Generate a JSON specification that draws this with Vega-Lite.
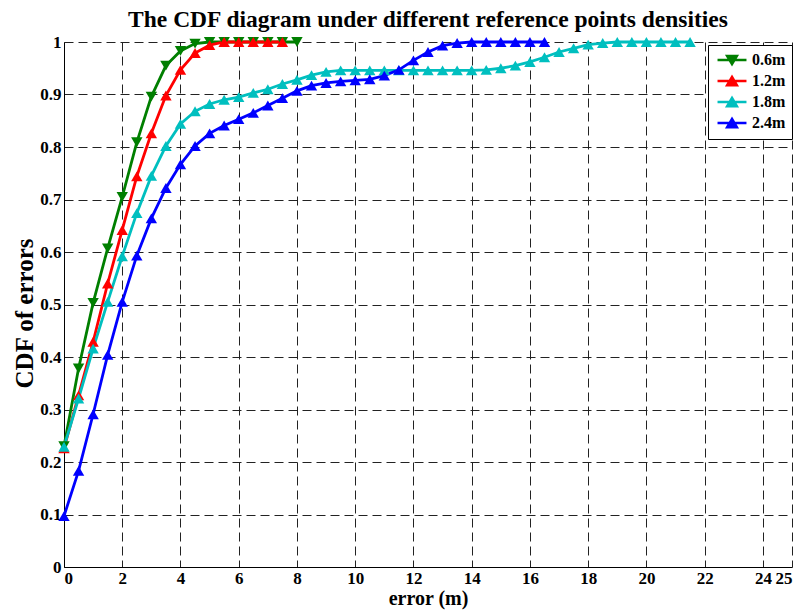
{
  "$schema": "https://vega.github.io/schema/vega-lite/v6.json",
  "width": 728,
  "height": 525,
  "autosize": {"type": "none"},
  "padding": {"left": 64, "top": 42, "right": 10, "bottom": 43},
  "background": "white",
  "title": {
    "text": "The CDF diagram under different reference points densities",
    "font": "Liberation Serif",
    "fontSize": 23.5,
    "fontWeight": "bold",
    "color": "black",
    "anchor": "middle",
    "offset": 2
  },
  "config": {
    "view": {"stroke": null},
    "axis": {
      "labelFont": "Liberation Serif",
      "labelFontSize": 17,
      "labelFontWeight": "bold",
      "labelColor": "black",
      "titleFont": "Liberation Serif",
      "titleFontWeight": "bold",
      "titleColor": "black",
      "domainColor": "black",
      "domainWidth": 1,
      "ticks": false,
      "grid": true,
      "gridColor": "#222",
      "gridDash": [9, 5],
      "gridWidth": 1,
      "gridOpacity": 1
    }
  },
  "data": {
    "values": [
      {"s": "0.6m", "x": 0, "y": 0.23},
      {"s": "0.6m", "x": 0.5, "y": 0.378},
      {"s": "0.6m", "x": 1, "y": 0.503},
      {"s": "0.6m", "x": 1.5, "y": 0.607},
      {"s": "0.6m", "x": 2, "y": 0.705},
      {"s": "0.6m", "x": 2.5, "y": 0.809},
      {"s": "0.6m", "x": 3, "y": 0.896},
      {"s": "0.6m", "x": 3.5, "y": 0.955},
      {"s": "0.6m", "x": 4, "y": 0.983},
      {"s": "0.6m", "x": 4.5, "y": 0.997},
      {"s": "0.6m", "x": 5, "y": 1},
      {"s": "0.6m", "x": 5.5, "y": 1},
      {"s": "0.6m", "x": 6, "y": 1},
      {"s": "0.6m", "x": 6.5, "y": 1},
      {"s": "0.6m", "x": 7, "y": 1},
      {"s": "0.6m", "x": 7.5, "y": 1},
      {"s": "0.6m", "x": 8, "y": 1},
      {"s": "1.2m", "x": 0, "y": 0.226},
      {"s": "1.2m", "x": 0.5, "y": 0.327},
      {"s": "1.2m", "x": 1, "y": 0.429},
      {"s": "1.2m", "x": 1.5, "y": 0.54},
      {"s": "1.2m", "x": 2, "y": 0.642},
      {"s": "1.2m", "x": 2.5, "y": 0.744},
      {"s": "1.2m", "x": 3, "y": 0.826},
      {"s": "1.2m", "x": 3.5, "y": 0.898},
      {"s": "1.2m", "x": 4, "y": 0.947},
      {"s": "1.2m", "x": 4.5, "y": 0.979},
      {"s": "1.2m", "x": 5, "y": 0.994},
      {"s": "1.2m", "x": 5.5, "y": 1},
      {"s": "1.2m", "x": 6, "y": 1},
      {"s": "1.2m", "x": 6.5, "y": 1},
      {"s": "1.2m", "x": 7, "y": 1},
      {"s": "1.2m", "x": 7.5, "y": 1},
      {"s": "1.8m", "x": 0, "y": 0.229},
      {"s": "1.8m", "x": 0.5, "y": 0.321},
      {"s": "1.8m", "x": 1, "y": 0.416},
      {"s": "1.8m", "x": 1.5, "y": 0.505},
      {"s": "1.8m", "x": 2, "y": 0.592},
      {"s": "1.8m", "x": 2.5, "y": 0.674},
      {"s": "1.8m", "x": 3, "y": 0.745},
      {"s": "1.8m", "x": 3.5, "y": 0.802},
      {"s": "1.8m", "x": 4, "y": 0.844},
      {"s": "1.8m", "x": 4.5, "y": 0.868},
      {"s": "1.8m", "x": 5, "y": 0.882},
      {"s": "1.8m", "x": 5.5, "y": 0.89},
      {"s": "1.8m", "x": 6, "y": 0.895},
      {"s": "1.8m", "x": 6.5, "y": 0.903},
      {"s": "1.8m", "x": 7, "y": 0.91},
      {"s": "1.8m", "x": 7.5, "y": 0.92},
      {"s": "1.8m", "x": 8, "y": 0.928},
      {"s": "1.8m", "x": 8.5, "y": 0.937},
      {"s": "1.8m", "x": 9, "y": 0.943},
      {"s": "1.8m", "x": 9.5, "y": 0.946},
      {"s": "1.8m", "x": 10, "y": 0.946},
      {"s": "1.8m", "x": 10.5, "y": 0.946},
      {"s": "1.8m", "x": 11, "y": 0.946},
      {"s": "1.8m", "x": 11.5, "y": 0.946},
      {"s": "1.8m", "x": 12, "y": 0.946},
      {"s": "1.8m", "x": 12.5, "y": 0.946},
      {"s": "1.8m", "x": 13, "y": 0.946},
      {"s": "1.8m", "x": 13.5, "y": 0.946},
      {"s": "1.8m", "x": 14, "y": 0.946},
      {"s": "1.8m", "x": 14.5, "y": 0.947},
      {"s": "1.8m", "x": 15, "y": 0.95},
      {"s": "1.8m", "x": 15.5, "y": 0.955},
      {"s": "1.8m", "x": 16, "y": 0.962},
      {"s": "1.8m", "x": 16.5, "y": 0.971},
      {"s": "1.8m", "x": 17, "y": 0.981},
      {"s": "1.8m", "x": 17.5, "y": 0.988},
      {"s": "1.8m", "x": 18, "y": 0.995},
      {"s": "1.8m", "x": 18.5, "y": 0.998},
      {"s": "1.8m", "x": 19, "y": 1},
      {"s": "1.8m", "x": 19.5, "y": 1},
      {"s": "1.8m", "x": 20, "y": 1},
      {"s": "1.8m", "x": 20.5, "y": 1},
      {"s": "1.8m", "x": 21, "y": 1},
      {"s": "1.8m", "x": 21.5, "y": 1},
      {"s": "2.4m", "x": 0, "y": 0.097},
      {"s": "2.4m", "x": 0.5, "y": 0.183},
      {"s": "2.4m", "x": 1, "y": 0.291},
      {"s": "2.4m", "x": 1.5, "y": 0.404},
      {"s": "2.4m", "x": 2, "y": 0.505},
      {"s": "2.4m", "x": 2.5, "y": 0.593},
      {"s": "2.4m", "x": 3, "y": 0.664},
      {"s": "2.4m", "x": 3.5, "y": 0.722},
      {"s": "2.4m", "x": 4, "y": 0.767},
      {"s": "2.4m", "x": 4.5, "y": 0.802},
      {"s": "2.4m", "x": 5, "y": 0.826},
      {"s": "2.4m", "x": 5.5, "y": 0.841},
      {"s": "2.4m", "x": 6, "y": 0.853},
      {"s": "2.4m", "x": 6.5, "y": 0.865},
      {"s": "2.4m", "x": 7, "y": 0.879},
      {"s": "2.4m", "x": 7.5, "y": 0.893},
      {"s": "2.4m", "x": 8, "y": 0.907},
      {"s": "2.4m", "x": 8.5, "y": 0.917},
      {"s": "2.4m", "x": 9, "y": 0.922},
      {"s": "2.4m", "x": 9.5, "y": 0.925},
      {"s": "2.4m", "x": 10, "y": 0.927},
      {"s": "2.4m", "x": 10.5, "y": 0.929},
      {"s": "2.4m", "x": 11, "y": 0.936},
      {"s": "2.4m", "x": 11.5, "y": 0.947},
      {"s": "2.4m", "x": 12, "y": 0.965},
      {"s": "2.4m", "x": 12.5, "y": 0.981},
      {"s": "2.4m", "x": 13, "y": 0.993},
      {"s": "2.4m", "x": 13.5, "y": 0.998},
      {"s": "2.4m", "x": 14, "y": 1},
      {"s": "2.4m", "x": 14.5, "y": 1},
      {"s": "2.4m", "x": 15, "y": 1},
      {"s": "2.4m", "x": 15.5, "y": 1},
      {"s": "2.4m", "x": 16, "y": 1},
      {"s": "2.4m", "x": 16.5, "y": 1}
    ]
  },
  "encoding": {
    "x": {
      "field": "x",
      "type": "quantitative",
      "scale": {"domain": [0, 25], "nice": false, "zero": false},
      "axis": {
        "title": "error (m)",
        "titleFontSize": 20,
        "values": [0, 2, 4, 6, 8, 10, 12, 14, 16, 18, 20, 22, 24, 25],
        "format": "d",
        "labelPadding": 3,
        "titlePadding": 2
      }
    },
    "y": {
      "field": "y",
      "type": "quantitative",
      "scale": {"domain": [0, 1], "nice": false},
      "axis": {
        "title": "CDF of errors",
        "titleFontSize": 25,
        "titleY": 271,
        "values": [0, 0.1, 0.2, 0.3, 0.4, 0.5, 0.6, 0.7, 0.8, 0.9, 1],
        "format": "~g",
        "labelPadding": 3,
        "titlePadding": 2
      }
    },
    "color": {
      "field": "s",
      "type": "nominal",
      "scale": {
        "domain": ["0.6m", "1.2m", "1.8m", "2.4m"],
        "range": ["#007F00", "#FF0000", "#00BFBF", "#0000FF"]
      },
      "legend": {
        "title": null,
        "orient": "none",
        "legendX": 644,
        "legendY": 3,
        "strokeColor": "black",
        "fillColor": "white",
        "padding": 6,
        "labelFont": "Liberation Serif",
        "labelFontSize": 16,
        "labelFontWeight": "bold",
        "labelColor": "black",
        "rowPadding": 1,
        "symbolSize": 225,
        "symbolOffset": 9,
        "symbolStrokeWidth": 2.5,
        "labelOffset": 11,
        "encode": {
          "symbols": {
            "update": {
              "shape": {"signal": "datum.value === '0.6m' ? 'M-1.93,0H1.93M-0.65,-0.55L0.65,-0.55L0,0.55Z' : 'M-1.93,0H1.93M0,-0.55L0.65,0.55L-0.65,0.55Z'"},
              "fill": {"scale": "color", "field": "value"},
              "stroke": {"scale": "color", "field": "value"},
              "opacity": {"value": 1}
            }
          }
        }
      }
    }
  },
  "layer": [
    {
      "mark": {"type": "line", "strokeWidth": 2.8},
      "encoding": {"detail": {"field": "s"}}
    },
    {
      "transform": [{"filter": "datum.s === '0.6m'"}],
      "mark": {"type": "point", "filled": true, "opacity": 1, "size": 130, "shape": "triangle-down"}
    },
    {
      "transform": [{"filter": "datum.s !== '0.6m'"}],
      "mark": {"type": "point", "filled": true, "opacity": 1, "size": 130, "shape": "triangle-up"}
    }
  ]
}
